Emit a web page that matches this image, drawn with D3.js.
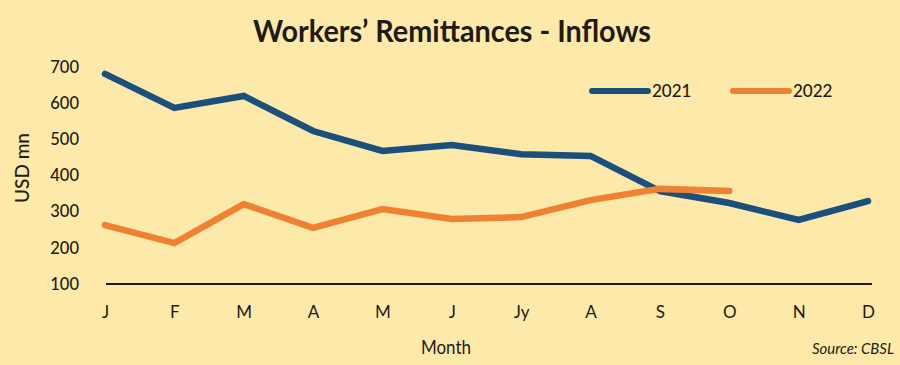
<!DOCTYPE html>
<html>
<head>
<meta charset="utf-8">
<script src="https://cdn.jsdelivr.net/npm/d3@7"></script>
<style>
  body { margin: 0; background: #fde9a9; }
  svg { display: block; }
</style>
</head>
<body>
<div id="chart"></div>
<script>
// data
var months = ["J", "F", "M", "A", "M", "J", "Jy", "A", "S", "O", "N", "D"];
var y2021 = [681, 587, 620, 523, 468, 484, 459, 454, 357, 324, 277, 329];
var y2022 = [263, 213, 321, 255, 307, 280, 285, 332, 363, 357];
var yTicks = [100, 200, 300, 400, 500, 600, 700];
var seriesNames = ["2021", "2022"];
var colors = ["#1b4f7c", "#ef8232"];

var width = 900, height = 365;
var ink = "#1e1a14";

var svg = d3.select("#chart").append("svg")
    .attr("width", width)
    .attr("height", height);

svg.append("rect")
    .attr("width", width).attr("height", height)
    .attr("fill", "#fde9a9");

var x = d3.scalePoint()
    .domain(d3.range(months.length))
    .range([105, 868]);

var y = d3.scaleLinear()
    .domain([100, 700])
    .range([284, 67]);

// title (condensed to match the narrow face of the original)
svg.append("text")
    .attr("x", 452).attr("y", 42)
    .attr("text-anchor", "middle")
    .attr("textLength", 398)
    .attr("lengthAdjust", "spacingAndGlyphs")
    .style("font-family", "Lato, sans-serif")
    .style("font-weight", "bold")
    .style("font-size", "31px")
    .attr("fill", ink)
    .text("Workers\u2019 Remittances - Inflows");

// y axis labels
var yAxis = d3.axisLeft(y).tickValues(yTicks).tickSize(0).tickPadding(0);
var gy = svg.append("g")
    .attr("transform", "translate(79,0)")
    .call(yAxis);
gy.select(".domain").remove();
gy.selectAll("text")
    .style("font-family", "Lato, sans-serif")
    .style("font-size", "16.5px")
    .style("font-weight", "500")
    .attr("fill", ink);

// baseline
svg.append("line")
    .attr("x1", 106).attr("x2", 872)
    .attr("y1", y(100)).attr("y2", y(100))
    .attr("stroke", "#1a1a1a")
    .attr("stroke-width", 2);

// x axis labels
var xAxis = d3.axisBottom(x).tickSize(0).tickPadding(0)
    .tickFormat(function(i) { return months[i]; });
var gx = svg.append("g")
    .attr("transform", "translate(0,306)")
    .call(xAxis);
gx.select(".domain").remove();
gx.selectAll("text")
    .style("font-family", "Lato, sans-serif")
    .style("font-size", "17px")
    .attr("fill", ink);

// axis titles
svg.append("text")
    .attr("transform", "translate(29,168) rotate(-90)")
    .attr("text-anchor", "middle")
    .style("font-family", "Lato, sans-serif")
    .style("font-size", "19px")
    .style("font-weight", "500")
    .attr("fill", ink)
    .text("USD mn");

svg.append("text")
    .attr("x", 446).attr("y", 354)
    .attr("text-anchor", "middle")
    .attr("textLength", 50)
    .attr("lengthAdjust", "spacingAndGlyphs")
    .style("font-family", "Lato, sans-serif")
    .style("font-size", "19px")
    .attr("fill", ink)
    .text("Month");

svg.append("text")
    .attr("x", 894).attr("y", 354)
    .attr("text-anchor", "end")
    .attr("textLength", 82)
    .attr("lengthAdjust", "spacingAndGlyphs")
    .style("font-family", "Lato, sans-serif")
    .style("font-style", "italic")
    .style("font-size", "16px")
    .attr("fill", ink)
    .text("Source: CBSL");

// lines
var line = d3.line()
    .x(function(d, i) { return x(i); })
    .y(function(d) { return y(d); });

[y2021, y2022].forEach(function(vals, k) {
    svg.append("path")
        .datum(vals)
        .attr("d", line)
        .attr("fill", "none")
        .attr("stroke", colors[k])
        .attr("stroke-width", 6.5)
        .attr("stroke-linecap", "round")
        .attr("stroke-linejoin", "miter");
});

// legend
var legendX = [592, 733];
seriesNames.forEach(function(name, k) {
    svg.append("line")
        .attr("x1", legendX[k]).attr("x2", legendX[k] + 56)
        .attr("y1", 91).attr("y2", 91)
        .attr("stroke", colors[k])
        .attr("stroke-width", 6)
        .attr("stroke-linecap", "round");
    svg.append("text")
        .attr("x", legendX[k] + 60).attr("y", 97)
        .style("font-family", "Lato, sans-serif")
        .style("font-size", "17px")
        .style("font-weight", "500")
        .attr("fill", ink)
        .text(name);
});
</script>
</body>
</html>
